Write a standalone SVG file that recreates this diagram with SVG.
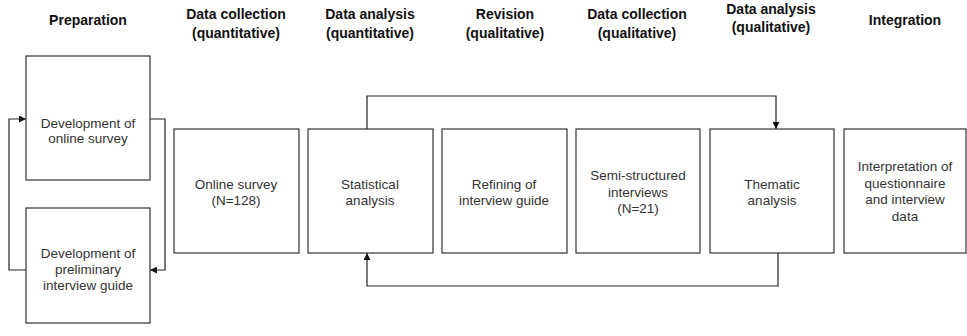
<svg xmlns="http://www.w3.org/2000/svg" width="967" height="336" viewBox="0 0 967 336">
<style>
.h{font-family:"Liberation Sans",Arial,sans-serif;font-size:14px;font-weight:bold;fill:#111;text-anchor:middle}
.t{font-family:"Liberation Sans",Arial,sans-serif;font-size:13.5px;fill:#333;text-anchor:middle}
.b{fill:#fff;stroke:#333;stroke-width:1.2}
.c{fill:none;stroke:#222;stroke-width:1.2}
</style>
<defs>
<marker id="a" viewBox="0 0 10 10" refX="10" refY="5" markerWidth="7" markerHeight="7" orient="auto" markerUnits="userSpaceOnUse">
<path d="M0,0 L10,5 L0,10 z" fill="#111"/>
</marker>
</defs>
<rect width="967" height="336" fill="#fff"/>
<g id="headers">
<text class="h" x="88" y="25">Preparation</text>
<text class="h" x="236" y="19">Data collection</text>
<text class="h" x="236" y="38">(quantitative)</text>
<text class="h" x="370" y="19">Data analysis</text>
<text class="h" x="370" y="38">(quantitative)</text>
<text class="h" x="505" y="19">Revision</text>
<text class="h" x="505" y="38">(qualitative)</text>
<text class="h" x="637" y="19">Data collection</text>
<text class="h" x="637" y="38">(qualitative)</text>
<text class="h" x="771" y="14">Data analysis</text>
<text class="h" x="771" y="32">(qualitative)</text>
<text class="h" x="905" y="25">Integration</text>
</g>
<g id="connectors">
<path class="c" d="M26,270 H9 V119 H26" marker-end="url(#a)"/>
<path class="c" d="M150,119 H165 V270 H150" marker-end="url(#a)"/>
<path class="c" d="M367,129 V96 H776 V129" marker-end="url(#a)"/>
<path class="c" d="M778,253 V286 H367 V253" marker-end="url(#a)"/>
</g>
<g id="n1"><rect class="b" x="26" y="56" width="124" height="124"/>
<text class="t" x="88" y="128">Development of</text><text class="t" x="88" y="143">online survey</text></g>
<g id="n2"><rect class="b" x="26" y="208" width="124" height="115"/>
<text class="t" x="88" y="258">Development of</text><text class="t" x="88" y="274">preliminary</text><text class="t" x="88" y="290">interview guide</text></g>
<g id="n3"><rect class="b" x="174" y="129" width="125" height="124"/>
<text class="t" x="236" y="189">Online survey</text><text class="t" x="236" y="205">(N=128)</text></g>
<g id="n4"><rect class="b" x="308" y="129" width="125" height="124"/>
<text class="t" x="370" y="189">Statistical</text><text class="t" x="370" y="205">analysis</text></g>
<g id="n5"><rect class="b" x="442" y="129" width="125" height="124"/>
<text class="t" x="504" y="189">Refining of</text><text class="t" x="504" y="205">interview guide</text></g>
<g id="n6"><rect class="b" x="576" y="129" width="124" height="124"/>
<text class="t" x="638" y="180">Semi-structured</text><text class="t" x="638" y="197">interviews</text><text class="t" x="638" y="213">(N=21)</text></g>
<g id="n7"><rect class="b" x="710" y="129" width="124" height="124"/>
<text class="t" x="772" y="189">Thematic</text><text class="t" x="772" y="205">analysis</text></g>
<g id="n8"><rect class="b" x="844" y="129" width="122" height="124"/>
<text class="t" x="905" y="171">Interpretation  of</text><text class="t" x="905" y="188">questionnaire</text><text class="t" x="905" y="204">and interview</text><text class="t" x="905" y="221">data</text></g>
</svg>
